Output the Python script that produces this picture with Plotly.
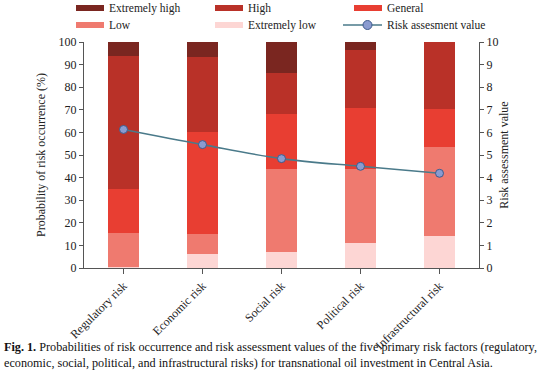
import plotly.graph_objects as go

categories = ["Regulatory risk", "Economic risk", "Social risk", "Political risk", "Infrastructural risk"]
extremely_low = [0.4, 6.2, 7.2, 10.9, 14.1]
low = [14.9, 8.9, 36.6, 32.9, 39.6]
general = [19.7, 44.9, 24.4, 27.1, 16.7]
high = [58.7, 33.4, 18.1, 25.4, 29.6]
extremely_high = [6.3, 6.6, 13.7, 3.7, 0.0]
risk_value = [6.13, 5.46, 4.84, 4.50, 4.19]
line_name = "Risk assesment value"

series = [
    ("Extremely high", extremely_high, "#7a2620"),
    ("High", high, "#b93128"),
    ("General", general, "#e83e32"),
    ("Low", low, "#ef7a6f"),
    ("Extremely low", extremely_low, "#fdd6d4"),
]
stack_order = ["Extremely low", "Low", "General", "High", "Extremely high"]
line_color = "#4a7a8a"
marker_fill = "#8a9bd0"
marker_edge = "#3d5a8c"

font_family = "Liberation Serif"
W, H = 554, 370
ML, MR, MT, MB = 84, 75, 42, 102
PW, PH = W - ML - MR, H - MT - MB


def px_x(px):
    return (px - ML) / PW


def px_y(py):
    return (H - MB - py) / PH


fig = go.Figure()
colors = {name: c for name, _, c in series}
values = {name: v for name, v, _ in series}
for name in stack_order:
    fig.add_trace(go.Bar(
        x=categories, y=values[name], name=name, marker_color=colors[name],
        marker_line_width=0, width=0.39, showlegend=False,
    ))

fig.add_trace(go.Scatter(
    x=categories, y=risk_value, name=line_name, yaxis="y2",
    mode="lines+markers", line=dict(color=line_color, width=1.6, shape="spline"),
    marker=dict(size=8, color=marker_fill, line=dict(color=marker_edge, width=1)),
    showlegend=False,
))

axis_color = "#555555"
fig.update_layout(
    width=W, height=H,
    barmode="stack",
    margin=dict(l=ML, r=MR, t=MT, b=MB),
    plot_bgcolor="white", paper_bgcolor="white",
    font=dict(family=font_family, size=12, color="#222222"),
    showlegend=False,
    xaxis=dict(
        showline=True, linecolor=axis_color, linewidth=1.2,
        ticks="outside", ticklen=5, tickcolor=axis_color,
        tickangle=-45, tickfont=dict(size=12),
        range=[-0.5, 4.5],
    ),
    yaxis=dict(
        range=[0, 100], dtick=10, showgrid=False, zeroline=False,
        showline=True, linecolor=axis_color, linewidth=1.2,
        ticks="outside", ticklen=4, tickcolor=axis_color,
        tickfont=dict(size=12),
        title=dict(text="Probability of risk occurrence (%)", font=dict(size=12), standoff=10),
    ),
    yaxis2=dict(
        overlaying="y", side="right", range=[0, 10], dtick=1,
        showgrid=False, zeroline=False,
        showline=True, linecolor=axis_color, linewidth=1.2,
        ticks="outside", ticklen=4, tickcolor=axis_color,
        tickfont=dict(size=12),
        title=dict(text="Risk assessment value", font=dict(size=12), standoff=2),
    ),
)

# Legend (3 columns x 2 rows), drawn above the plot area
legend_cols = [76, 215, 354]
legend_rows = [8, 25]
legend_items = [name for name, _, _ in series] + [line_name]
for i, name in enumerate(legend_items):
    cx = legend_cols[i % 3]
    cy = legend_rows[i // 3]
    if name == line_name:
        fig.add_shape(type="line", xref="paper", yref="paper",
                      x0=px_x(cx - 11), x1=px_x(cx + 28), y0=px_y(cy), y1=px_y(cy),
                      line=dict(color=line_color, width=1.6))
        fig.add_shape(type="circle", xref="paper", yref="paper",
                      x0=px_x(cx + 9), x1=px_x(cx + 18), y0=px_y(cy - 4.5), y1=px_y(cy + 4.5),
                      fillcolor=marker_fill, line=dict(color=marker_edge, width=1))
    else:
        fig.add_shape(type="rect", xref="paper", yref="paper",
                      x0=px_x(cx), x1=px_x(cx + 28), y0=px_y(cy - 3), y1=px_y(cy + 3),
                      fillcolor=colors[name], line=dict(width=0))
    fig.add_annotation(xref="paper", yref="paper", x=px_x(cx + 31), y=px_y(cy),
                       xanchor="left", yanchor="middle", showarrow=False,
                       text=name, font=dict(size=11.5, family=font_family, color="#222222"))

fig.add_annotation(
    xref="paper", yref="paper", x=px_x(2), y=px_y(338),
    xanchor="left", yanchor="top", align="left", showarrow=False,
    text=("<b>Fig. 1.</b> Probabilities of risk occurrence and risk assessment values of the five primary risk factors (regulatory,<br>"
          "economic, social, political, and infrastructural risks) for transnational oil investment in Central Asia."),
    font=dict(size=12.2, family=font_family, color="#111111"),
)

fig.write_html("out.html", config={"displayModeBar": False},
               post_script="document.body.style.margin='0';")
